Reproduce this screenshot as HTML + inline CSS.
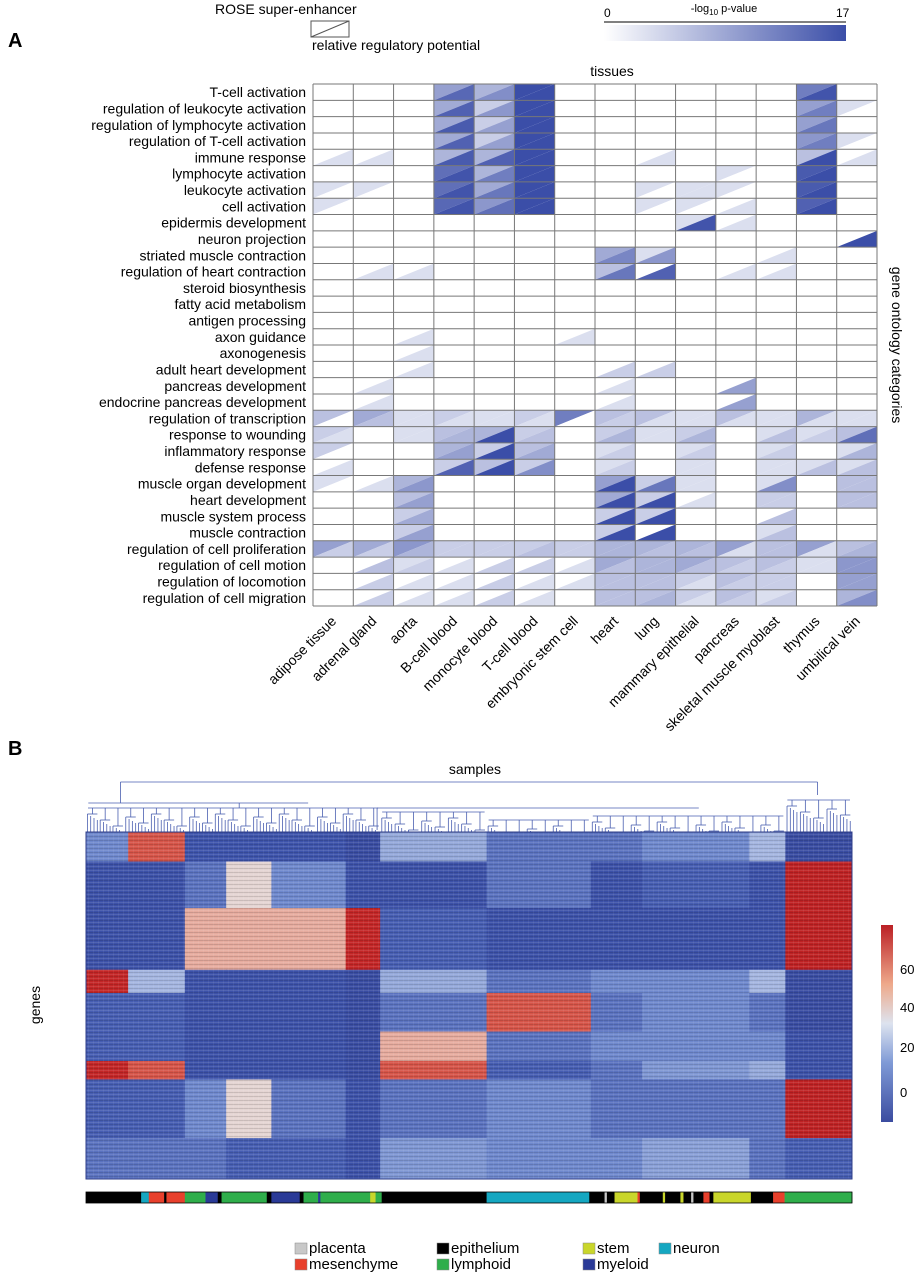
<!DOCTYPE html>
<html><head><meta charset="utf-8">
<style>
body{margin:0;background:#fff;font-family:"Liberation Sans",sans-serif;}
#root{position:relative;width:919px;height:1280px;overflow:hidden;}
svg text{font-family:"Liberation Sans",sans-serif;}
</style></head>
<body>
<div id="root">
<svg id="svg" width="919" height="1280" xmlns="http://www.w3.org/2000/svg">
<defs>
<linearGradient id="pgrad" x1="0" x2="1" y1="0" y2="0"><stop offset="0" stop-color="#ffffff"/><stop offset="1" stop-color="#3b4ea8"/></linearGradient>
<linearGradient id="hgrad" x1="0" x2="0" y1="1" y2="0"><stop offset="0" stop-color="#3b4ca0"/><stop offset="0.3" stop-color="#7f9ad6"/><stop offset="0.5" stop-color="#dde3ef"/><stop offset="0.7" stop-color="#eea98b"/><stop offset="1" stop-color="#bb2025"/></linearGradient>
<pattern id="stripes" width="5" height="4" patternUnits="userSpaceOnUse"><rect width="5" height="1" fill="#000" fill-opacity="0.12"/><rect y="2" width="5" height="1" fill="#fff" fill-opacity="0.1"/><rect x="3" y="0" width="1" height="4" fill="#fff" fill-opacity="0.06"/></pattern>
</defs>
<text x="8" y="47" font-size="20" font-weight="bold">A</text>
<text x="8" y="755" font-size="20" font-weight="bold">B</text>
<g>
<text x="215" y="14" font-size="14">ROSE super-enhancer</text>
<rect x="311" y="21" width="38" height="16" fill="#fff" stroke="#555"/>
<line x1="311" y1="37" x2="349" y2="21" stroke="#555"/>
<text x="312" y="50" font-size="14">relative regulatory potential</text>
</g>
<g>
<text x="724" y="12" font-size="11" text-anchor="middle">-log<tspan font-size="8" dy="3">10</tspan><tspan dy="-3"> p-value</tspan></text>
<text x="604" y="17" font-size="12">0</text>
<text x="836" y="17" font-size="12">17</text>
<line x1="604" y1="22" x2="846" y2="22" stroke="#000"/>
<rect x="604" y="25" width="242" height="16" fill="url(#pgrad)"/>
</g>
<text x="612" y="76" font-size="14" text-anchor="middle">tissues</text>
<text transform="translate(892,345) rotate(90)" font-size="14" text-anchor="middle">gene ontology categories</text>
<g id="gridA"></g>
<text x="475" y="774" font-size="14" text-anchor="middle">samples</text>
<text transform="translate(40,1005) rotate(-90)" font-size="14" text-anchor="middle">genes</text>
<g id="dendro"></g>
<g id="heatB"></g>
<g id="catbar"></g>
<g>
<rect x="881" y="925" width="12" height="197" fill="url(#hgrad)"/>
<text x="900" y="974" font-size="13">60</text>
<text x="900" y="1012" font-size="13">40</text>
<text x="900" y="1052" font-size="13">20</text>
<text x="900" y="1097" font-size="13">0</text>
</g>
<g id="legendB"></g>
</svg>
</div>
<script>
const goTerms=["T-cell activation","regulation of leukocyte activation","regulation of lymphocyte activation","regulation of T-cell activation","immune response","lymphocyte activation","leukocyte activation","cell activation","epidermis development","neuron projection","striated muscle contraction","regulation of heart contraction","steroid biosynthesis","fatty acid metabolism","antigen processing","axon guidance","axonogenesis","adult heart development","pancreas development","endocrine pancreas development","regulation of transcription","response to wounding","inflammatory response","defense response","muscle organ development","heart development","muscle system process","muscle contraction","regulation of cell proliferation","regulation of cell motion","regulation of locomotion","regulation of cell migration"];
const tissues=["adipose tissue","adrenal gland","aorta","B-cell blood","monocyte blood","T-cell blood","embryonic stem cell","heart","lung","mammary epithelial","pancreas","skeletal muscle myoblast","thymus","umbilical vein"];
const roseVals=[
[0,0,0,6,4,17,0,0,0,0,0,0,10,0],
[0,0,0,5,2,17,0,0,0,0,0,0,6,1],
[0,0,0,5,2,17,0,0,0,0,0,0,6,0],
[0,0,0,5,2,17,0,0,0,0,0,0,7,1],
[0,0,0,4,4,17,0,0,0,0,0,0,3,0],
[0,0,0,12,4,17,0,0,0,0,1,0,15,0],
[1,1,0,12,5,17,0,0,1,1,1,0,15,0],
[1,0,0,13,7,17,0,0,1,1,0,0,14,0],
[0,0,0,0,0,0,0,0,0,1,0,0,0,0],
[0,0,0,0,0,0,0,0,0,0,0,0,0,0],
[0,0,0,0,0,0,0,5,1,0,0,0,0,0],
[0,0,0,0,0,0,0,3,0,0,0,0,0,0],
[0,0,0,0,0,0,0,0,0,0,0,0,0,0],
[0,0,0,0,0,0,0,0,0,0,0,0,0,0],
[0,0,0,0,0,0,0,0,0,0,0,0,0,0],
[0,0,0,0,0,0,0,0,0,0,0,0,0,0],
[0,0,0,0,0,0,0,0,0,0,0,0,0,0],
[0,0,0,0,0,0,0,0,0,0,0,0,0,0],
[0,0,0,0,0,0,0,0,0,0,0,0,0,0],
[0,0,0,0,0,0,0,0,0,0,0,0,0,0],
[3,5,1,2,1,2,10,3,3,1,3,1,4,1],
[2,0,1,3,4,2,0,2,1,2,0,1,1,3],
[2,0,0,4,2,3,0,1,0,1,0,1,0,1],
[0,0,0,2,3,2,0,1,0,1,0,1,1,1],
[1,0,4,0,0,0,0,6,2,1,0,1,0,3],
[0,0,3,0,0,0,0,5,2,0,0,2,0,3],
[0,0,2,0,0,0,0,2,2,0,0,0,0,0],
[0,0,2,0,0,0,0,2,0,0,0,1,0,0],
[6,5,7,2,2,2,2,4,4,4,6,3,6,3],
[0,0,1,0,0,0,0,5,4,5,3,3,1,7],
[0,0,0,0,0,0,0,3,3,2,3,2,0,6],
[0,0,0,0,0,0,0,3,3,2,3,1,0,4]];
const rrpVals=[
[0,0,0,13,8,17,0,0,0,0,0,0,16,0],
[0,0,0,14,7,17,0,0,0,0,0,0,10,0],
[0,0,0,15,6,17,0,0,0,0,0,0,11,0],
[0,0,0,14,6,17,0,0,0,0,0,0,10,0],
[1,1,0,15,14,17,0,0,1,0,0,0,17,1],
[0,0,0,16,10,17,0,0,0,0,0,0,17,0],
[0,0,0,16,11,17,0,0,0,1,0,0,17,0],
[0,0,0,16,12,17,0,0,0,0,1,0,17,0],
[0,0,0,0,0,0,0,0,0,16,1,0,0,0],
[0,0,0,0,0,0,0,0,0,0,0,0,0,17],
[0,0,0,0,0,0,0,9,7,0,0,1,0,0],
[0,1,1,0,0,0,0,11,14,0,1,1,0,0],
[0,0,0,0,0,0,0,0,0,0,0,0,0,0],
[0,0,0,0,0,0,0,0,0,0,0,0,0,0],
[0,0,0,0,0,0,0,0,0,0,0,0,0,0],
[0,0,1,0,0,0,1,0,0,0,0,0,0,0],
[0,0,1,0,0,0,0,0,0,0,0,0,0,0],
[0,0,1,0,0,0,0,2,2,0,0,0,0,0],
[0,1,0,0,0,0,0,1,0,0,6,0,0,0],
[0,1,0,0,0,0,0,1,0,0,6,0,0,0],
[0,3,1,1,1,1,0,2,1,1,1,1,1,1],
[1,0,1,4,17,3,0,4,1,4,0,3,2,12],
[0,0,0,6,17,5,0,2,0,2,0,2,0,4],
[1,0,0,14,17,8,0,2,0,1,0,1,3,3],
[0,1,7,0,0,0,0,17,11,1,0,8,0,3],
[0,0,6,0,0,0,0,17,17,1,0,2,0,3],
[0,0,5,0,0,0,0,17,17,0,0,3,0,0],
[0,0,6,0,0,0,0,17,17,0,0,3,0,0],
[2,2,4,2,2,3,2,4,3,3,1,3,1,4],
[0,3,2,1,2,2,1,3,4,3,2,2,1,7],
[0,2,1,1,2,1,1,3,3,1,2,2,0,6],
[0,2,1,1,2,1,0,3,4,1,2,2,0,8]];
// panel B block data (mean expression per gene-cluster x sample-cluster)
const sampleGroupBounds=[0,0.055,0.129,0.183,0.242,0.339,0.384,0.523,0.659,0.726,0.866,0.913,1];
const geneGroupBounds=[0,0.085,0.219,0.397,0.464,0.575,0.66,0.713,0.882,1];
const exprVals=[
[15,58,2,2,2,-5,22,10,10,15,25,-5],
[0,0,10,38,15,0,0,10,0,5,0,70],
[0,0,45,45,45,65,5,0,0,0,0,70],
[65,25,0,0,0,-5,22,10,15,15,25,-5],
[5,5,0,0,0,-5,10,58,10,15,10,-5],
[5,5,0,0,0,-5,45,10,15,15,15,0],
[65,58,0,0,0,-5,58,5,10,18,22,0],
[5,5,15,38,10,0,10,15,10,10,10,70],
[10,10,10,5,5,0,18,15,15,20,10,5]];
const catSegments=[["epithelium",0,0.072],["neuron",0.072,0.082],["mesenchyme",0.082,0.102],["epithelium",0.102,0.105],["mesenchyme",0.105,0.129],["lymphoid",0.129,0.156],["myeloid",0.156,0.172],["epithelium",0.172,0.177],["lymphoid",0.177,0.236],["epithelium",0.236,0.242],["myeloid",0.242,0.279],["epithelium",0.279,0.284],["lymphoid",0.284,0.303],["myeloid",0.303,0.306],["lymphoid",0.306,0.371],["stem",0.371,0.378],["lymphoid",0.378,0.386],["epithelium",0.386,0.523],["neuron",0.523,0.657],["epithelium",0.657,0.677],["placenta",0.677,0.680],["epithelium",0.680,0.690],["stem",0.690,0.720],["mesenchyme",0.720,0.723],["epithelium",0.723,0.753],["stem",0.753,0.756],["epithelium",0.756,0.776],["stem",0.776,0.780],["epithelium",0.780,0.790],["placenta",0.790,0.793],["epithelium",0.793,0.806],["mesenchyme",0.806,0.814],["epithelium",0.814,0.819],["stem",0.819,0.868],["epithelium",0.868,0.897],["mesenchyme",0.897,0.912],["lymphoid",0.912,1]];
const catNames=["placenta","epithelium","stem","neuron","mesenchyme","lymphoid","myeloid"];
const catColors={placenta:"#c8c8c8",epithelium:"#000000",stem:"#c9d62b",neuron:"#15a7c1",mesenchyme:"#e8402c",lymphoid:"#2fae4b",myeloid:"#2a3a97"};

const NS="http://www.w3.org/2000/svg";
function mk(tag,attrs,parent){const e=document.createElementNS(NS,tag);for(const k in attrs)e.setAttribute(k,attrs[k]);parent.appendChild(e);return e;}
const gx0=313,gx1=877,gy0=84,gy1=606;
const cw=(gx1-gx0)/tissues.length, rh=(gy1-gy0)/goTerms.length;
const xA=c=>gx0+c*cw, yA=r=>gy0+r*rh;
function pColor(v){const t=Math.pow(Math.max(0,Math.min(17,v))/17,0.6);const a=[255,255,255],b=[59,78,168];return `rgb(${Math.round(a[0]+(b[0]-a[0])*t)},${Math.round(a[1]+(b[1]-a[1])*t)},${Math.round(a[2]+(b[2]-a[2])*t)})`;}
const gA=document.getElementById('gridA');
goTerms.forEach((term,r)=>{
  const t=mk('text',{x:306,y:yA(r)+rh/2+5,'font-size':14,'text-anchor':'end'},gA);t.textContent=term;
  
  
  tissues.forEach((ts,c)=>{
    const x0=xA(c),x1=xA(c+1),y0=yA(r),y1=yA(r+1);
    const up=mk('polygon',{points:`${x0},${y0} ${x1},${y0} ${x0},${y1}`,fill:pColor(roseVals[r][c])},gA);
    
    
    const lo=mk('polygon',{points:`${x1},${y0} ${x1},${y1} ${x0},${y1}`,fill:pColor(rrpVals[r][c])},gA);
    
    
  });
});
for(let r=0;r<=goTerms.length;r++){const l=mk('line',{x1:gx0,x2:gx1,y1:yA(r),y2:yA(r),stroke:'#777','stroke-width':1},gA);}
for(let c=0;c<=tissues.length;c++){const l=mk('line',{x1:xA(c),x2:xA(c),y1:gy0,y2:gy1,stroke:'#777','stroke-width':1},gA);}
tissues.forEach((ts,c)=>{
  const cx=xA(c)+cw/2+4, cy=gy1+16;
  const t=mk('text',{transform:`translate(${cx},${cy}) rotate(-45)`,'font-size':14,'text-anchor':'end'},gA);t.textContent=ts;
  
  
});
// Panel B
const hx0=86,hx1=852,hy0=832,hy1=1179;
const xB=f=>hx0+f*(hx1-hx0), yB=f=>hy0+f*(hy1-hy0);
const stops=[[-15,[50,66,150]],[3,[62,84,172]],[15,[110,136,205]],[28,[180,195,230]],[38,[228,212,210]],[52,[232,130,105]],[64,[196,38,38]],[81,[180,25,30]]];
function eColor(v){for(let i=0;i<stops.length-1;i++){const[a,ca]=stops[i],[b,cb]=stops[i+1];if(v<=b||i==stops.length-2){const t=Math.max(0,Math.min(1,(v-a)/(b-a)));return `rgb(${ca.map((q,k)=>Math.round(q+(cb[k]-q)*t)).join(',')})`;}}}
const hB=document.getElementById('heatB');
exprVals.forEach((row,gi)=>{row.forEach((v,si)=>{
  const r=mk('rect',{x:xB(sampleGroupBounds[si]),y:yB(geneGroupBounds[gi]),width:xB(sampleGroupBounds[si+1])-xB(sampleGroupBounds[si])+0.5,height:yB(geneGroupBounds[gi+1])-yB(geneGroupBounds[gi])+0.5,fill:eColor(v)},hB);
  
  
});});
const ov=mk('rect',{x:hx0,y:hy0,width:hx1-hx0,height:hy1-hy0,fill:'url(#stripes)',stroke:'#2e3d8a','stroke-width':1},hB);


// dendrogram (structure sketch)
const dG=document.getElementById('dendro');
const dc='#4a5fb0';
function dl(x1,y1,x2,y2){const l=mk('line',{x1,y1,x2,y2,stroke:dc,'stroke-width':0.8},dG);}
const clusterTops=[[0,0.384,808],[0.384,0.523,812],[0.523,0.659,820],[0.659,0.913,816],[0.913,1,800]];
dl(xB(0.045),782,xB(0.955),782);dl(xB(0.045),782,xB(0.045),803);dl(xB(0.955),782,xB(0.955),795);
dl(xB(0.003),803,xB(0.29),803);dl(xB(0.2),803,xB(0.2),808);dl(xB(0.38),808,xB(0.8),808);dl(xB(0.38),808,xB(0.38),830);
clusterTops.forEach(([a,b,h])=>{dl(xB(a)+2,h,xB(b)-2,h);
  const n=Math.round((b-a)*60);
  for(let i=0;i<n;i++){const xa=xB(a)+(i+0.5)*(xB(b)-xB(a))/n;const hh=h+6+((i*7)%5)*3;dl(xa,h,xa,hh);
    const sub=4;for(let j=0;j<sub;j++){const xs=xa-5+j*3.3;dl(xs,hh+((j*5)%4)*2,xs,832);}dl(xa-5,hh,xa+5,hh);}
});
// category bar
const cB=document.getElementById('catbar');
catSegments.forEach(([cat,a,b])=>{const r=mk('rect',{x:xB(a),y:1192,width:xB(b)-xB(a)+0.3,height:11,fill:catColors[cat]},cB);});
const fr=mk('rect',{x:hx0,y:1192,width:hx1-hx0,height:11,fill:'none',stroke:'#000','stroke-width':0.8},cB);
// legend
const lB=document.getElementById('legendB');
const legPos=[[295,1253],[437,1253],[583,1253],[659,1253],[295,1269],[437,1269],[583,1269]];
catNames.forEach((n,i)=>{const[x,y]=legPos[i];
  const s=mk('rect',{x:x,y:y-10,width:12,height:11,fill:catColors[n],stroke:'#888','stroke-width':0.5},lB);
  const t=mk('text',{x:x+14,y:y,'font-size':15},lB);t.textContent=n;});
</script>
</body></html>
